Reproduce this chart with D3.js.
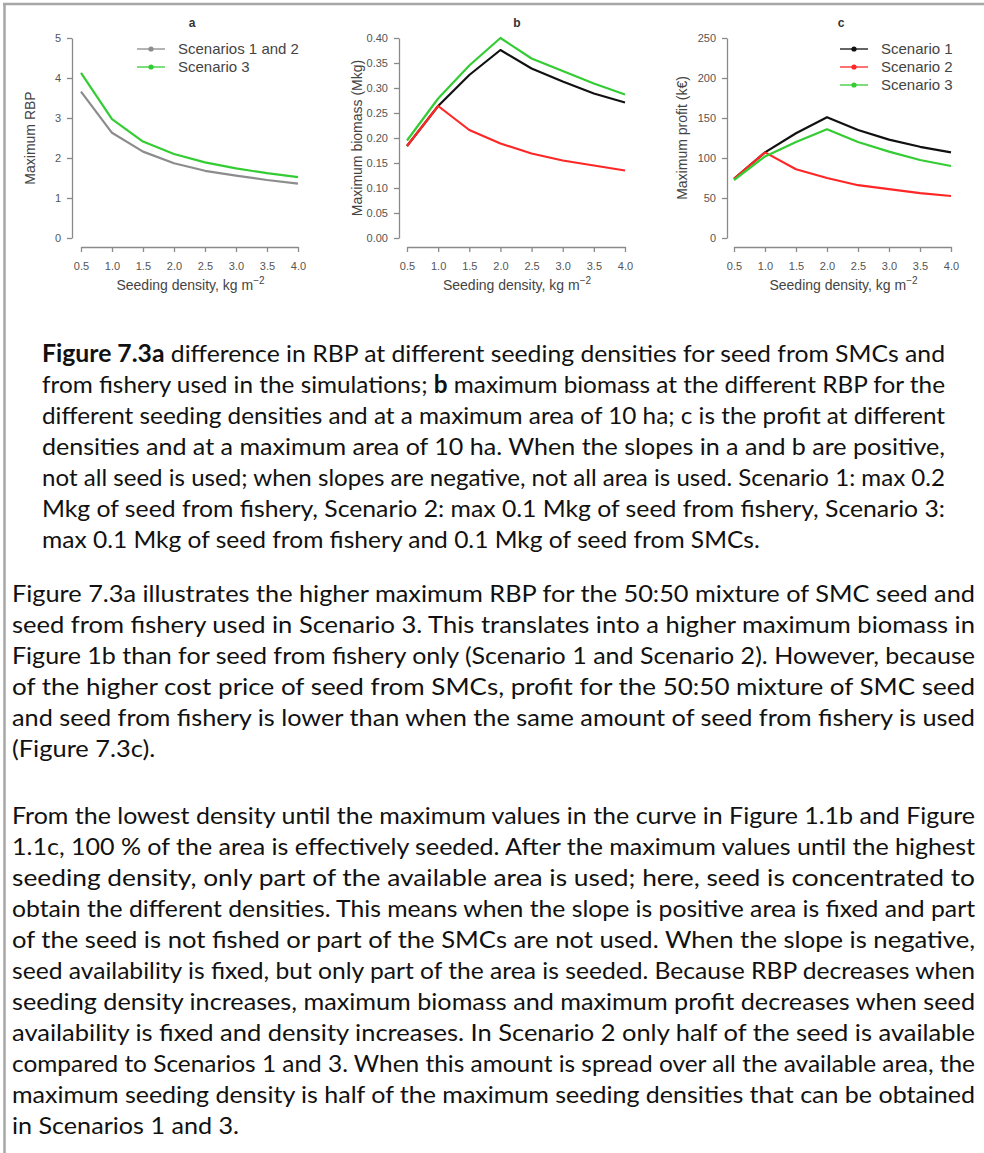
<!DOCTYPE html>
<html>
<head>
<meta charset="utf-8">
<script src="https://cdn.jsdelivr.net/npm/d3@7"></script>
<style>
body{margin:0;background:#fff;}
svg{display:block;}
</style>
</head>
<body>
<svg id="page"></svg>
<script>
// seeding densities on the x axis of all three panels
var densities = [0.5,1.0,1.5,2.0,2.5,3.0,3.5,4.0];

// panel a : maximum RBP
var rbpScen12 = [3.66,2.63,2.16,1.87,1.68,1.56,1.45,1.36];
var rbpScen3  = [4.13,2.97,2.41,2.10,1.89,1.74,1.62,1.52];

// panel b : maximum biomass (Mkg)
var biomassScen1 = [0.184,0.264,0.326,0.376,0.339,0.313,0.289,0.271];
var biomassScen2 = [0.184,0.264,0.216,0.189,0.169,0.155,0.145,0.135];
var biomassScen3 = [0.195,0.279,0.345,0.400,0.359,0.334,0.309,0.287];

// panel c : maximum profit (k€)
var profitScen1 = [74,107,131,151,135,123,114,107];
var profitScen2 = [74,107,86,75,66,61,56,52.5];
var profitScen3 = [72.5,102,120,136,120,108,97.5,90];

var xTicks = [0.5,1.0,1.5,2.0,2.5,3.0,3.5,4.0];
var rbpTicks = [0,1,2,3,4,5];
var biomassTicks = [0,0.05,0.10,0.15,0.20,0.25,0.30,0.35,0.40];
var profitTicks = [0,50,100,150,200,250];

var legendA = ["Scenarios 1 and 2","Scenario 3"];
var legendC = ["Scenario 1","Scenario 2","Scenario 3"];

var captionLines = [
 "**Figure 7.3a** difference in RBP at different seeding densities for seed from SMCs and",
 "from fishery used in the simulations; **b** maximum biomass at the different RBP for the",
 "different seeding densities and at a maximum area of 10 ha; c is the profit at different",
 "densities and at a maximum area of 10 ha. When the slopes in a and b are positive,",
 "not all seed is used; when slopes are negative, not all area is used. Scenario 1: max 0.2",
 "Mkg of seed from fishery, Scenario 2: max 0.1 Mkg of seed from fishery, Scenario 3:",
 "max 0.1 Mkg of seed from fishery and 0.1 Mkg of seed from SMCs."
];
var para2Lines = [
 "Figure 7.3a illustrates the higher maximum RBP for the 50:50 mixture of SMC seed and",
 "seed from fishery used in Scenario 3. This translates into a higher maximum biomass in",
 "Figure 1b than for seed from fishery only (Scenario 1 and Scenario 2). However, because",
 "of the higher cost price of seed from SMCs, profit for the 50:50 mixture of SMC seed",
 "and seed from fishery is lower than when the same amount of seed from fishery is used",
 "(Figure 7.3c)."
];
var para3Lines = [
 "From the lowest density until the maximum values in the curve in Figure 1.1b and Figure",
 "1.1c, 100 % of the area is effectively seeded. After the maximum values until the highest",
 "seeding density, only part of the available area is used; here, seed is concentrated to",
 "obtain the different densities. This means when the slope is positive area is fixed and part",
 "of the seed is not fished or part of the SMCs are not used. When the slope is negative,",
 "seed availability is fixed, but only part of the area is seeded. Because RBP decreases when",
 "seeding density increases, maximum biomass and maximum profit decreases when seed",
 "availability is fixed and density increases. In Scenario 2 only half of the seed is available",
 "compared to Scenarios 1 and 3. When this amount is spread over all the available area, the",
 "maximum seeding density is half of the maximum seeding densities that can be obtained",
 "in Scenarios 1 and 3."
];

var chartFont = "'Liberation Sans', Arial, sans-serif";
var textFont = "Lato, 'Open Sans', sans-serif";

var screen = {width:984, height:1153};

var svg = d3.select("#page")
    .attr("width",screen.width)
    .attr("height",screen.height);

// page frame (top and left only)
svg.append("line").attr("x1",3).attr("x2",984).attr("y1",4).attr("y2",4)
    .attr("stroke","#a6a6a6").attr("stroke-width",2.5);
svg.append("line").attr("x1",4.5).attr("x2",4.5).attr("y1",3).attr("y2",1153)
    .attr("stroke","#a6a6a6").attr("stroke-width",2.5);

svg.append("defs").append("clipPath").attr("id","figclip")
    .append("rect").attr("x",0).attr("y",0).attr("width",961).attr("height",300);

var fig = svg.append("g").attr("clip-path","url(#figclip)");

var drawPanel = function(panel)
{
    var xScale = d3.scaleLinear().domain([0.5,4.0]).range([panel.left,panel.right]);
    var yScale = d3.scaleLinear().domain([0,panel.ymax]).range([238,38]);
    var g = fig.append("g");

    var xAxis = d3.axisBottom(xScale).tickValues(xTicks).tickFormat(d3.format(".1f"))
        .tickSize(5).tickSizeOuter(0).tickPadding(10);
    var yAxis = d3.axisLeft(yScale).tickValues(panel.ticks).tickFormat(panel.fmt)
        .tickSize(5).tickSizeOuter(0).tickPadding(6);

    var xa = g.append("g").attr("transform","translate(0,247)").call(xAxis);
    var ya = g.append("g").attr("transform","translate("+panel.axisX+",0)").call(yAxis);
    [xa,ya].forEach(function(a){
        a.attr("font-family",null).attr("font-size",null);
        a.select(".domain").attr("stroke","#8a8a8a").attr("stroke-width",1.3);
        a.selectAll(".tick line").attr("stroke","#8a8a8a").attr("stroke-width",1.3);
        a.selectAll(".tick text").attr("fill","#555")
            .style("font-family",chartFont).style("font-size","11px");
    });

    // title
    g.append("text").text(panel.title)
        .attr("x",panel.titleX).attr("y",27)
        .attr("text-anchor","middle")
        .style("font-family",chartFont).style("font-weight","bold")
        .style("font-size","12px").attr("fill","#333");

    // x label
    var xl = g.append("text")
        .attr("x",(panel.left+panel.right)/2+1).attr("y",290)
        .attr("text-anchor","middle")
        .style("font-family",chartFont).style("font-size","14px").attr("fill","#444");
    xl.append("tspan").text("Seeding density, kg m");
    xl.append("tspan").text("\u22122").attr("dy",-6).style("font-size","10px");

    // y label
    g.append("text").text(panel.ylabel)
        .attr("transform","translate("+panel.ylabelX+",138) rotate(-90)")
        .attr("text-anchor","middle")
        .style("font-family",chartFont).style("font-size","14px").attr("fill","#444");

    var lineGenerator = d3.line()
        .x(function(d,i){return xScale(densities[i]);})
        .y(function(d){return yScale(d);});

    panel.series.forEach(function(s){
        g.append("path").datum(s.values)
            .attr("d",lineGenerator)
            .attr("fill","none")
            .attr("stroke",s.color)
            .attr("stroke-width",2.2)
            .attr("stroke-linejoin","round");
    });

    // legend
    panel.legend.forEach(function(name,i){
        var y = panel.legY + i*panel.legStep;
        var col = panel.legColors[i];
        g.append("line").attr("x1",panel.legX).attr("x2",panel.legX+28)
            .attr("y1",y).attr("y2",y).attr("stroke",col).attr("stroke-width",1.3);
        g.append("circle").attr("cx",panel.legX+14).attr("cy",y).attr("r",2.6).attr("fill",col);
        g.append("text").text(name)
            .attr("x",panel.legX+41).attr("y",y+5)
            .style("font-family",chartFont).style("font-size","15px").attr("fill","#444");
    });
};

var black = "#111111", red = "#ff2626", green = "#33cc33", grey = "#8c8c8c";

drawPanel({
    left:81, right:298, axisX:72, ymax:5, ticks:rbpTicks, fmt:d3.format("d"),
    title:"a", titleX:192, ylabel:"Maximum RBP", ylabelX:35,
    series:[{values:rbpScen12,color:grey},{values:rbpScen3,color:green}],
    legend:legendA, legColors:[grey,green], legX:137, legY:49, legStep:18
});
drawPanel({
    left:407, right:625, axisX:399, ymax:0.40, ticks:biomassTicks, fmt:d3.format(".2f"),
    title:"b", titleX:517, ylabel:"Maximum biomass (Mkg)", ylabelX:362,
    series:[{values:biomassScen1,color:black},{values:biomassScen2,color:red},{values:biomassScen3,color:green}],
    legend:[], legColors:[], legX:0, legY:0, legStep:0
});
drawPanel({
    left:734, right:951, axisX:727, ymax:250, ticks:profitTicks, fmt:d3.format("d"),
    title:"c", titleX:841, ylabel:"Maximum profit (k\u20ac)", ylabelX:687,
    series:[{values:profitScen1,color:black},{values:profitScen2,color:red},{values:profitScen3,color:green}],
    legend:legendC, legColors:[black,red,green], legX:840, legY:49, legStep:18
});

// text blocks, justified lines stretched to the block width
var writeBlock = function(lines,opts)
{
    var nodes = lines.map(function(line,i){
        var t = svg.append("text")
            .attr("x",opts.left).attr("y",opts.top+i*opts.step)
            .style("font-family",textFont).style("font-size",opts.size+"px")
            .attr("fill","#111");
        line.split("**").forEach(function(part,j){
            if(part.length){
                var sp = t.append("tspan").text(part);
                if(j%2) sp.attr("font-weight","bold");
            }
        });
        return t;
    });
    var ratios = [];
    nodes.forEach(function(t,i){
        if(i<lines.length-1) ratios.push((opts.right-opts.left)/t.node().getComputedTextLength());
    });
    var squash = d3.mean(ratios);
    nodes.forEach(function(t,i){
        var w = i<lines.length-1 ? opts.right-opts.left : t.node().getComputedTextLength()*squash;
        t.attr("textLength",w).attr("lengthAdjust","spacingAndGlyphs");
    });
};

writeBlock(captionLines,{left:42,right:945,top:362,step:31,size:24});
writeBlock(para2Lines,{left:12,right:975,top:602,step:31,size:24});
writeBlock(para3Lines,{left:12,right:975,top:824,step:31,size:24});
</script>
</body>
</html>
